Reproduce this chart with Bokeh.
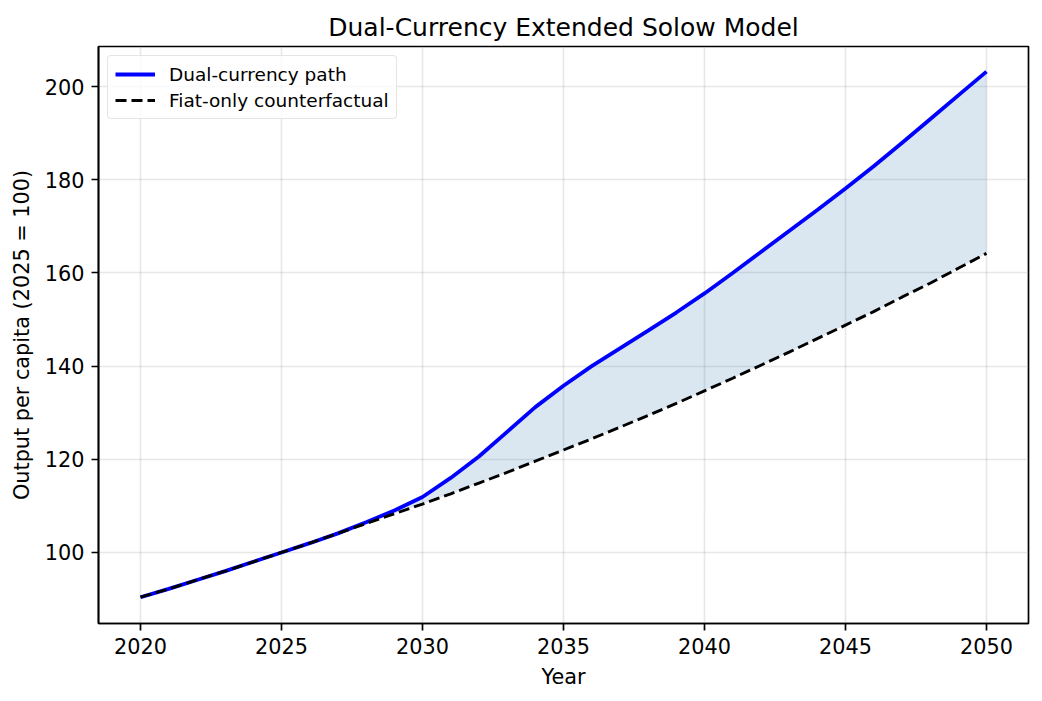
from bokeh.plotting import figure
from bokeh.models import ColumnDataSource, Range1d, Legend, LegendItem, FixedTicker
from bokeh.embed import file_html
from bokeh.resources import INLINE

years = list(range(2020, 2051))
dual_path = [90.4, 92.2, 94.1, 96.0, 98.0, 100.0, 102.0, 104.1, 106.5, 109.0,
             111.9, 116.0, 120.6, 125.9, 131.2, 135.8, 140.0, 143.8, 147.6, 151.5,
             155.6, 160.0, 164.5, 169.0, 173.5, 178.1, 182.9, 187.9, 193.0, 198.1,
             203.2]
fiat_only = [90.4, 92.2, 94.1, 96.0, 98.0, 100.0, 102.0, 104.1, 106.2, 108.3,
             110.4, 112.6, 114.9, 117.2, 119.6, 122.0, 124.4, 126.9, 129.4, 132.0,
             134.7, 137.4, 140.2, 143.0, 145.9, 148.8, 151.7, 154.8, 157.8, 161.0,
             164.2]
x_ticks = [2020, 2025, 2030, 2035, 2040, 2045, 2050]
y_ticks = [100, 120, 140, 160, 180, 200]

src = ColumnDataSource(dict(year=years, dual=dual_path, fiat=fiat_only))

FONT = "DejaVu Sans"
p = figure(width=1034, height=693, output_backend="svg", toolbar_location=None,
           x_range=Range1d(2018.51, 2051.49), y_range=Range1d(84.76, 208.6),
           min_border_left=98, min_border_right=6, min_border_top=46, min_border_bottom=70)

p.title.text = "Dual-Currency Extended Solow Model"
p.title.align = "center"
p.title.text_font = FONT
p.title.text_font_size = "25px"
p.title.text_font_style = "normal"
p.title.text_color = "black"
p.title.standoff = 10

p.varea(x="year", y1="fiat", y2="dual", source=src, fill_color="steelblue", fill_alpha=0.2)
r1 = p.line(x="year", y="dual", source=src, line_color="blue", line_width=3.8)
r2 = p.line(x="year", y="fiat", source=src, line_color="black", line_width=2.9, line_dash="11 5")

legend = Legend(items=[LegendItem(label="Dual-currency path", renderers=[r1]),
                       LegendItem(label="Fiat-only counterfactual", renderers=[r2])],
                location="top_left")
legend.label_text_font = FONT
legend.label_text_font_size = "18.5px"
legend.label_text_color = "black"
legend.border_line_color = "#cccccc"
legend.border_line_width = 1.5
legend.border_radius = 4
legend.glyph_width = 40
legend.glyph_height = 22
legend.label_height = 22
legend.label_standoff = 14
legend.spacing = 4
legend.padding = 7
legend.margin = 9
legend.background_fill_alpha = 0.8
p.add_layout(legend)

for ax in (p.xaxis, p.yaxis):
    ax.axis_label_text_font = FONT
    ax.axis_label_text_font_size = "20.8px"
    ax.axis_label_text_font_style = "normal"
    ax.axis_label_text_color = "black"
    ax.major_label_text_font = FONT
    ax.major_label_text_font_size = "20.8px"
    ax.major_label_text_color = "black"
    ax.minor_tick_line_color = None
    ax.major_tick_out = 7
    ax.major_tick_in = 0
    ax.major_label_standoff = 7
    ax.axis_label_standoff = 8
    ax.axis_line_color = "black"
    ax.axis_line_width = 1.7
    ax.major_tick_line_color = "black"
    ax.major_tick_line_width = 1.7

p.xaxis.axis_label = "Year"
p.yaxis.axis_label = "Output per capita (2025 = 100)"
p.xaxis.ticker = FixedTicker(ticks=x_ticks)
p.yaxis.ticker = FixedTicker(ticks=y_ticks)

p.xgrid.ticker = FixedTicker(ticks=x_ticks)
p.ygrid.ticker = FixedTicker(ticks=y_ticks)
p.grid.grid_line_color = "#b0b0b0"
p.grid.grid_line_alpha = 0.3
p.grid.grid_line_width = 1.6
p.outline_line_color = "black"
p.outline_line_alpha = 1.0
p.outline_line_width = 1.7

open("out.html", "w").write(file_html(p, INLINE))
